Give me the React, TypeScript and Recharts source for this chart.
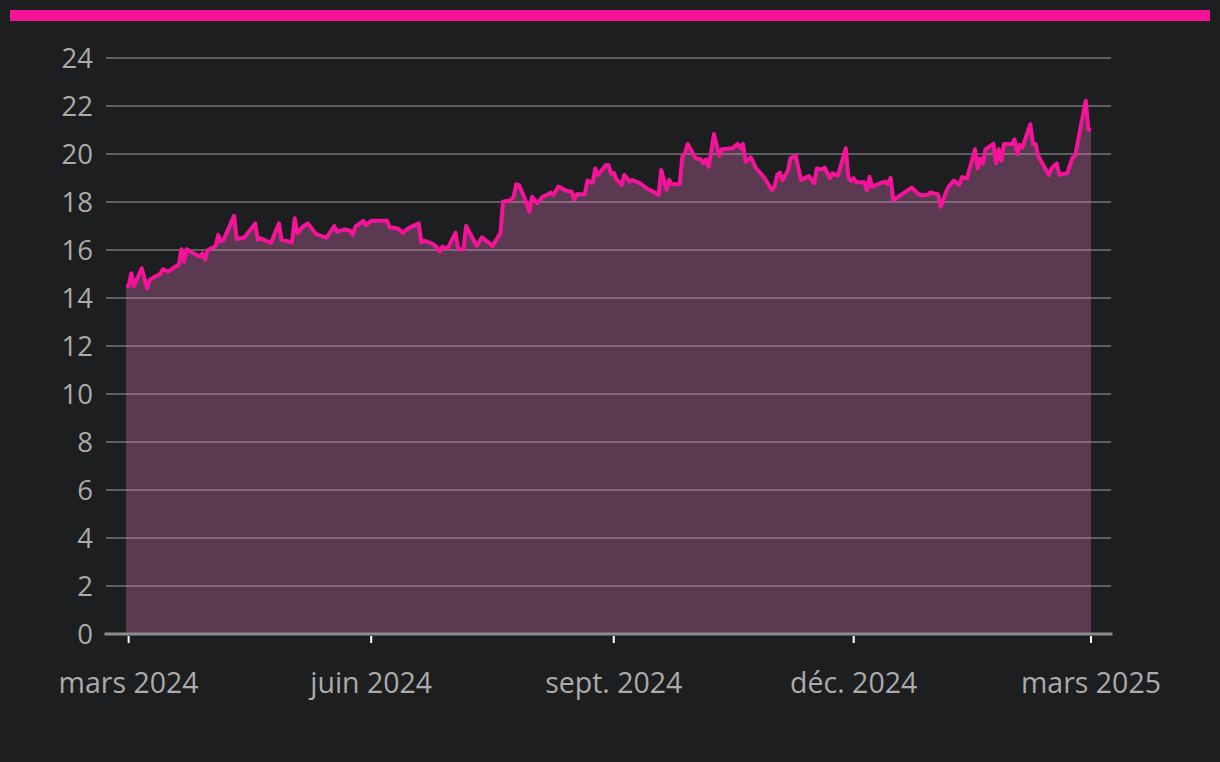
import React from "react";
import { AreaChart, Area, XAxis, YAxis, CartesianGrid } from "recharts";

const dates: string[] = [
  "2024-02-29","2024-03-01","2024-03-02","2024-03-03","2024-03-06","2024-03-08","2024-03-09","2024-03-11","2024-03-13","2024-03-14",
  "2024-03-16","2024-03-18","2024-03-20","2024-03-21","2024-03-22","2024-03-23","2024-03-28","2024-03-29","2024-03-30","2024-03-31",
  "2024-04-03","2024-04-04","2024-04-05","2024-04-06","2024-04-10","2024-04-11","2024-04-14","2024-04-18","2024-04-19","2024-04-20",
  "2024-04-24","2024-04-27","2024-04-28","2024-04-30","2024-05-02","2024-05-03","2024-05-04","2024-05-06","2024-05-08","2024-05-11",
  "2024-05-12","2024-05-15","2024-05-18","2024-05-19","2024-05-22","2024-05-24","2024-05-25","2024-05-26","2024-05-29","2024-05-30",
  "2024-06-01","2024-06-07","2024-06-08","2024-06-11","2024-06-13","2024-06-15","2024-06-19","2024-06-20","2024-06-21","2024-06-24",
  "2024-06-26","2024-06-27","2024-06-28","2024-06-30","2024-07-03","2024-07-04","2024-07-06","2024-07-07","2024-07-11","2024-07-13",
  "2024-07-17","2024-07-20","2024-07-21","2024-07-24","2024-07-25","2024-07-26","2024-07-27","2024-07-29","2024-07-31","2024-08-01",
  "2024-08-03","2024-08-05","2024-08-07","2024-08-08","2024-08-09","2024-08-11","2024-08-14","2024-08-16","2024-08-17","2024-08-18",
  "2024-08-21","2024-08-22","2024-08-24","2024-08-25","2024-08-26","2024-08-29","2024-08-30","2024-08-31","2024-09-01","2024-09-02",
  "2024-09-04","2024-09-05","2024-09-07","2024-09-08","2024-09-11","2024-09-14","2024-09-16","2024-09-18","2024-09-19","2024-09-21",
  "2024-09-22","2024-09-23","2024-09-26","2024-09-27","2024-09-28","2024-09-29","2024-10-02","2024-10-04","2024-10-05","2024-10-06",
  "2024-10-07","2024-10-09","2024-10-11","2024-10-12","2024-10-16","2024-10-18","2024-10-19","2024-10-20","2024-10-21","2024-10-23",
  "2024-10-25","2024-10-28","2024-10-31","2024-11-01","2024-11-02","2024-11-03","2024-11-04","2024-11-06","2024-11-07","2024-11-09",
  "2024-11-11","2024-11-14","2024-11-16","2024-11-17","2024-11-19","2024-11-20","2024-11-22","2024-11-23","2024-11-25","2024-11-28",
  "2024-11-29","2024-11-30","2024-12-01","2024-12-02","2024-12-05","2024-12-06","2024-12-07","2024-12-08","2024-12-11","2024-12-13",
  "2024-12-14","2024-12-15","2024-12-16","2024-12-23","2024-12-26","2024-12-29","2024-12-30","2025-01-02","2025-01-03","2025-01-05",
  "2025-01-06","2025-01-08","2025-01-10","2025-01-11","2025-01-13","2025-01-16","2025-01-17","2025-01-18","2025-01-19","2025-01-20",
  "2025-01-23","2025-01-24","2025-01-25","2025-01-26","2025-01-27","2025-01-30","2025-01-31","2025-02-01","2025-02-02","2025-02-03",
  "2025-02-06","2025-02-07","2025-02-08","2025-02-09","2025-02-13","2025-02-14","2025-02-16","2025-02-17","2025-02-20","2025-02-22",
  "2025-02-23","2025-02-27","2025-02-28","2025-03-01",
];

const values: number[] = [
  14.5,14.5,15.03,14.5,15.24,14.4,14.75,14.89,15.0,15.2,
  15.1,15.26,15.38,16.03,15.51,16.03,15.72,15.86,15.61,16.0,
  16.17,16.63,16.35,16.42,17.42,16.45,16.53,17.11,16.42,16.49,
  16.3,17.11,16.42,16.38,16.32,17.32,16.7,16.97,17.11,16.67,
  16.63,16.51,17.0,16.76,16.86,16.8,16.63,16.97,17.21,17.04,
  17.22,17.22,16.95,16.9,16.72,16.9,17.11,16.32,16.39,16.28,
  16.11,15.93,16.14,16.07,16.72,16.03,16.03,17.0,16.17,16.53,
  16.17,16.7,18.01,18.08,18.22,18.74,18.71,18.22,17.6,18.22,
  17.95,18.22,18.32,18.39,18.29,18.64,18.47,18.43,18.11,18.32,
  18.32,18.89,18.8,19.4,19.13,19.54,19.54,19.17,19.22,18.95,
  18.71,19.13,18.85,18.92,18.78,18.53,18.43,18.29,19.33,18.5,
  18.92,18.74,18.74,19.89,20.03,20.42,19.82,19.78,19.61,19.78,
  19.47,20.83,19.92,20.2,20.24,20.42,20.24,20.42,19.68,19.86,
  19.4,19.03,18.5,18.64,19.13,19.22,18.9,19.3,19.82,19.93,
  18.92,19.08,18.78,19.4,19.36,19.43,18.99,19.2,19.1,20.24,
  19.01,18.88,18.99,18.82,18.82,18.5,19.05,18.64,18.78,18.85,
  18.74,19.01,18.08,18.6,18.29,18.29,18.4,18.32,17.8,18.4,
  18.64,18.89,18.71,19.03,18.99,20.2,19.4,19.82,19.61,20.2,
  20.42,19.61,20.2,19.72,20.42,20.42,20.61,20.0,20.38,20.28,
  21.24,20.42,20.42,19.92,19.13,19.4,19.61,19.13,19.2,19.85,
  19.92,22.22,21.03,21.0,
];

const tickDates: string[] = ["2024-03-01", "2024-06-01", "2024-09-01", "2024-12-01", "2025-03-01"];
const tickLabels: string[] = ["mars 2024", "juin 2024", "sept. 2024", "déc. 2024", "mars 2025"];
const yTicks: number[] = [0, 2, 4, 6, 8, 10, 12, 14, 16, 18, 20, 22, 24];

const data = dates.map((d, i) => ({ t: Date.parse(d), value: values[i] }));
const xTicks = tickDates.map((d) => Date.parse(d));

const FONT = "'Open Sans', 'Noto Sans', sans-serif";
const LABEL = "#ababab";
const PINK = "#f5139a";
const BG = "#1d1e20";

const XTick = (props: any) => {
  const { x, y, payload } = props;
  const idx = xTicks.indexOf(payload.value);
  const label = idx >= 0 ? tickLabels[idx] : "";
  return (
    <g>
      <line x1={x} x2={x} y1={y + 2} y2={y + 9} stroke="#ffffff" strokeWidth={2} />
      <text x={x} y={y + 59} textAnchor="middle" fill={LABEL} fontSize={28.5} fontFamily={FONT}>
        {label}
      </text>
    </g>
  );
};

export default function App() {
  return (
    <div style={{ position: "absolute", left: 0, top: 0, width: 1220, height: 762, background: BG, overflow: "hidden" }}>
      <div style={{ position: "absolute", left: 10, top: 10, width: 1200, height: 11, background: PINK }} />
      <div style={{ position: "absolute", left: 0, top: 0 }}>
        <AreaChart width={1220} height={762} data={data} margin={{ top: 58, right: 109, bottom: 68, left: 26 }}>
          <CartesianGrid horizontal vertical={false} stroke="#5e5e5e" strokeWidth={2} />
          <XAxis
            dataKey="t"
            type="number"
            domain={["dataMin", "dataMax"]}
            padding={{ left: 20, right: 20 }}
            ticks={xTicks}
            interval={0}
            height={60}
            tickSize={0}
            tickMargin={0}
            tickLine={false}
            axisLine={{ stroke: "#8c8c8c", strokeWidth: 3, strokeLinecap: "square" }}
            tick={<XTick />}
          />
          <YAxis
            type="number"
            domain={[0, 24]}
            ticks={yTicks}
            interval={0}
            width={80}
            axisLine={false}
            tickLine={false}
            tickSize={0}
            tickMargin={13}
            tick={{ fill: LABEL, fontSize: 27.5, fontFamily: FONT }}
          />
          <Area
            type="linear"
            dataKey="value"
            stroke={PINK}
            strokeWidth={4}
            strokeLinejoin="round"
            fill="#ec7fc3"
            fillOpacity={0.3}
            isAnimationActive={false}
            dot={false}
            activeDot={false}
          />
        </AreaChart>
      </div>
    </div>
  );
}
